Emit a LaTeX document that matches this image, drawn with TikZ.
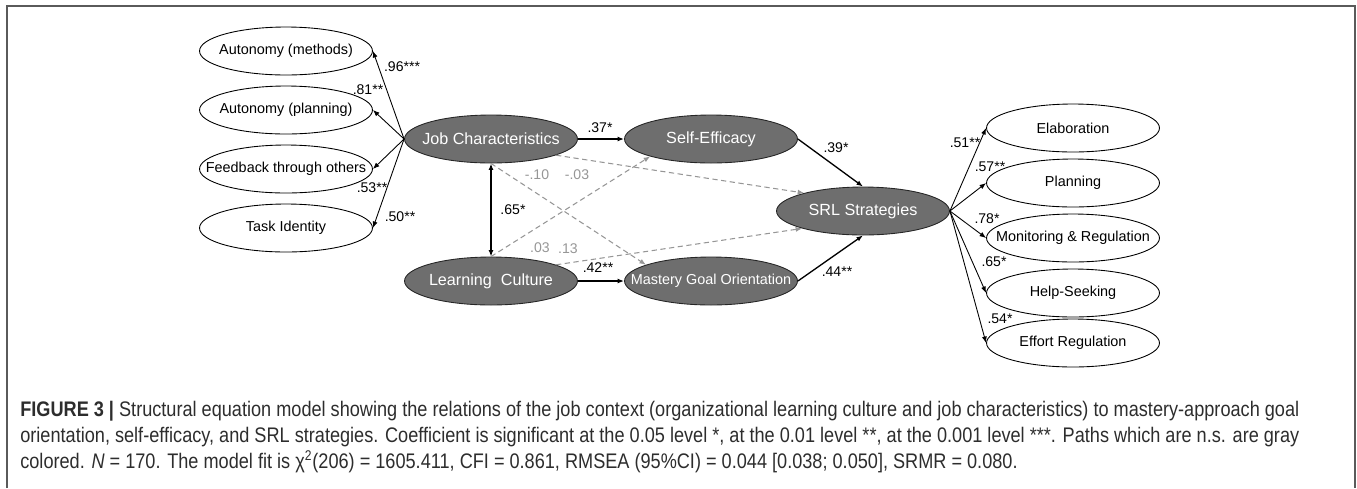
\documentclass[tikz,border=0pt]{standalone}
\usepackage{fontspec}
\setmainfont{Liberation Sans}
\newfontfamily\capfont[FakeStretch=0.86]{Liberation Sans}
\usetikzlibrary{shapes.geometric, arrows.meta}
\definecolor{latfill}{RGB}{110,110,110}
\definecolor{nsgray}{RGB}{150,150,150}
\definecolor{captext}{RGB}{45,45,45}
\definecolor{framegray}{RGB}{90,90,90}

\begin{document}
\begin{tikzpicture}
      [x=0.02cm, y=-0.02cm,
        >={Latex[length=1.3mm, width=1mm]},
        latvar/.style={ellipse, draw=black!85, fill=latfill, text=white,
          line width=0.5pt, minimum width=3.46cm, minimum height=0.96cm,
          inner xsep=-0.5cm, font=\fontsize{9.2}{11}\selectfont},
        obsvar/.style={ellipse, draw=black, fill=white,
          line width=0.5pt, minimum width=3.46cm, minimum height=0.96cm,
          inner xsep=-0.5cm, font=\fontsize{8.2}{10}\selectfont},
        coef/.style={inner sep=0pt, font=\fontsize{8}{10}\selectfont},
        nscoef/.style={coef, text=nsgray},
        sigpath/.style={->, line width=0.75pt},
        loading/.style={->, line width=0.5pt},
        nspath/.style={->, nsgray, line width=0.6pt, dash pattern=on 3pt off 2pt},
        capline/.style={anchor=base west, inner sep=0pt, text=captext,
          font=\capfont\fontsize{12}{14}\selectfont}]
    \useasboundingbox (0,0) rectangle (1357,488);
    \draw[framegray, line width=1pt] (7,488) -- (7,6) -- (1355,6) -- (1355,488);

    % job characteristics and its indicators
    \node[latvar] (jc) at (491,139) {Job Characteristics};
    \node[obsvar] (am) at (286,51) {Autonomy (methods)};
    \node[obsvar] (ap) at (286,110) {Autonomy (planning)};
    \node[obsvar] (fb) at (286,169) {Feedback through others};
    \node[obsvar] (ti) at (286,228) {Task Identity};

    \node[latvar] (lc) at (491,281) {Learning\ \ Culture};
    \node[latvar] (se) at (711,139) {Self-Efficacy};
    \node[latvar] (mg) at (711,281) {\fontsize{8.2}{10}\selectfont Mastery Goal Orientation};
    \node[latvar] (srl) at (863,211) {SRL Strategies};

    % SRL indicators
    \node[obsvar] (el) at (1073,128) {Elaboration};
    \node[obsvar] (pl) at (1073,183) {Planning};
    \node[obsvar] (mr) at (1073,238) {Monitoring \& Regulation};
    \node[obsvar] (hs) at (1073,293) {Help-Seeking};
    \node[obsvar] (er) at (1073,343) {Effort Regulation};

    \foreach \ind in {am, ap, fb, ti}
      \draw[loading] (jc.west) -- (\ind.east);
    \foreach \ind in {el, pl, mr, hs, er}
      \draw[loading] (srl.east) -- (\ind.west);

    % significant paths
    \draw[sigpath] (jc) -- (se);
    \draw[sigpath] (lc) -- (mg);
    \draw[sigpath] (se.east) -- (srl.north);
    \draw[sigpath] (mg.east) -- (srl.south);
    \draw[sigpath, <->] (jc) -- (lc);

    % n.s. paths
    \draw[nspath] (jc.346) -- (srl.163);
    \draw[nspath] (jc.south) -- (mg.166);
    \draw[nspath] (lc.north) -- (se.196);
    \draw[nspath] (lc.14) -- (srl.196);

    \node[coef] (c96) at (402,67) {.96***};
    \node[coef] (c81) at (368,90) {.81**};
    \node[coef] (c53) at (372,188) {.53**};
    \node[coef] (c50) at (400,217) {.50**};
    \node[coef] (c37) at (600,128) {.37*};
    \node[coef] (c65) at (513,210) {.65*};
    \node[coef] (c42) at (598,268) {.42**};
    \node[coef] (c39) at (836,148) {.39*};
    \node[coef] (c44) at (837,272) {.44**};
    \node[nscoef] (n10) at (537,175) {-.10};
    \node[nscoef] (n03a) at (577,175) {-.03};
    \node[nscoef] (n03b) at (540,248) {.03};
    \node[nscoef] (n13) at (568,249) {.13};
    \node[coef] (c51) at (965,143) {.51**};
    \node[coef] (c57) at (990,167) {.57**};
    \node[coef] (c78) at (987,219) {.78*};
    \node[coef] (c65b) at (994,262) {.65*};
    \node[coef] (c54) at (1000,319) {.54*};

    % caption
    \node[capline] (cap1) at (20,416) {\textbf{FIGURE 3 |} Structural equation model showing the relations of the job context (organizational learning culture and job characteristics) to mastery-approach goal};
    \node[capline] (cap2) at (20,442) {orientation, self-efficacy, and SRL strategies. Coefficient is significant at the 0.05 level *, at the 0.01 level **, at the 0.001 level ***. Paths which are n.s. are gray};
    \node[capline] (cap3) at (20,468) {colored. \textit{N} = 170. The model fit is χ\textsuperscript{2}(206) = 1605.411, CFI = 0.861, RMSEA (95\%CI) = 0.044 [0.038; 0.050], SRMR = 0.080.};
\end{tikzpicture}
\end{document}
